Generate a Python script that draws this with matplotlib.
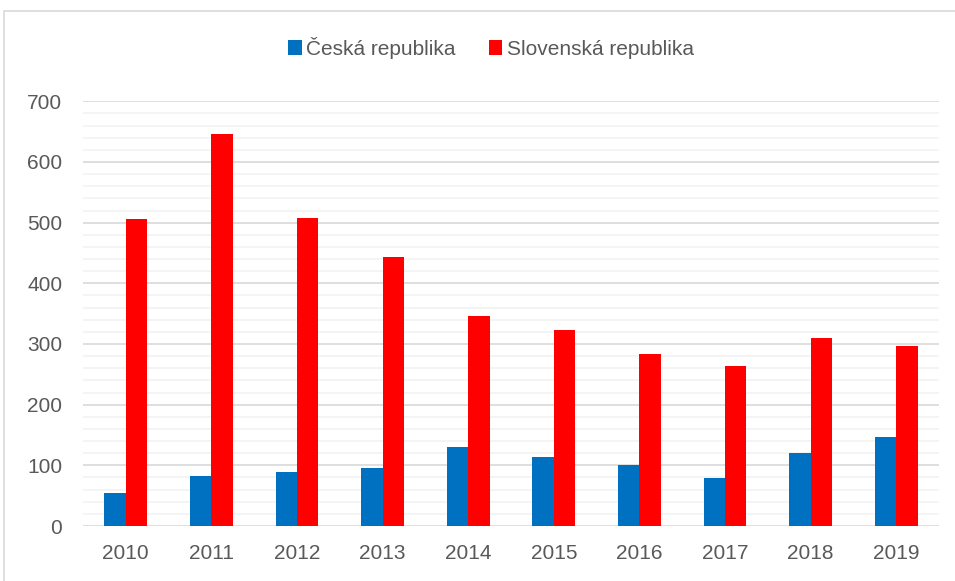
import matplotlib
matplotlib.use("Agg")
import matplotlib.pyplot as plt
import numpy as np
from matplotlib.patches import Rectangle

years = ["2010", "2011", "2012", "2013", "2014", "2015", "2016", "2017", "2018", "2019"]
cz = [54, 82, 89, 95, 131, 113, 101, 79, 120, 147]
sk = [506, 646, 507, 443, 346, 323, 284, 263, 310, 296]
series_names = ["Česká republika", "Slovenská republika"]

plt.rcParams['font.family'] = ['Liberation Sans', 'DejaVu Sans']
W, H = 955, 581
fig = plt.figure(figsize=(W / 100, H / 100), dpi=100)

# chart frame
fig.patches.append(Rectangle((4 / W, -0.1), 1.2, 1 - 11 / H + 0.1, transform=fig.transFigure,
                             fill=False, edgecolor="#d9d9d9", linewidth=1.2))

ax = fig.add_axes([83 / W, (H - 526) / H, (939 - 83) / W, (526 - 101.3) / H])
x = np.arange(len(years))
bw = 0.25
ax.bar(x - bw / 2, cz, width=bw, color="#0070C0", label=series_names[0], zorder=3)
ax.bar(x + bw / 2, sk, width=bw, color="#FF0000", label=series_names[1], zorder=3)

ax.set_xlim(-0.5, len(years) - 0.5)
ax.set_ylim(0, 700)
ax.set_yticks(np.arange(0, 701, 100))
ax.set_yticks(np.arange(0, 701, 20), minor=True)
ax.grid(axis="y", which="major", color="#d9d9d9", linewidth=1.2, zorder=1)
ax.grid(axis="y", which="minor", color="#f2f2f2", linewidth=1.2, zorder=0)
ax.set_xticks(x)
ax.set_xticklabels(years)
for s in ax.spines.values():
    s.set_visible(False)
ax.tick_params(axis="both", which="both", length=0, labelsize=15, colors="#595959")
ax.tick_params(axis="x", pad=13)
ax.tick_params(axis="y", pad=15)

leg = fig.legend(loc="center", bbox_to_anchor=(491 / W, 1 - 48 / H), ncol=2,
                 frameon=False, fontsize=15, handlelength=0.65, handleheight=0.7,
                 handletextpad=0.2, columnspacing=1.6)
for t in leg.get_texts():
    t.set_color("#595959")

fig.savefig("out.png", dpi=100)
